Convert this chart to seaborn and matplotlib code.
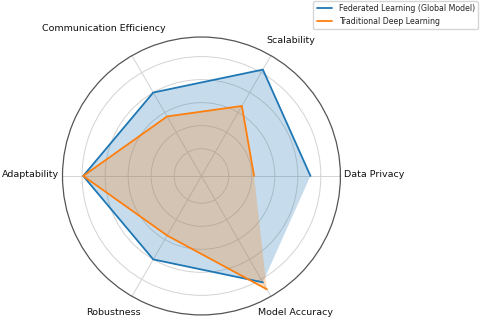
import numpy as np
import seaborn as sns
import matplotlib.pyplot as plt

sns.set_style('white')
plt.rcParams['font.family'] = ['DejaVu Sans']

categories = ['Data Privacy', 'Scalability', 'Communication Efficiency',
              'Adaptability', 'Robustness', 'Model Accuracy']
federated = [0.91, 1.03, 0.80, 0.99, 0.80, 1.03]
traditional = [0.42, 0.665, 0.56, 0.99, 0.56, 1.10]
series_names = ['Federated Learning (Global Model)', 'Traditional Deep Learning']

# pixel offsets of each category label from the outer ring
label_offsets = [(33.5, 1), (20, 15.6), (-28, 27.6),
                 (-32, 1), (-18.5, -16.6), (24.5, -16.6)]

angles = np.linspace(0, 2 * np.pi, len(categories), endpoint=False).tolist()
angles_closed = angles + angles[:1]

colors = sns.color_palette('tab10', 2)

fig = plt.figure(figsize=(4.8, 3.26), dpi=100)
ax = fig.add_axes([0.1302, 0.0337, 0.579, 0.853], projection='polar')

for vals, name, c in zip([federated, traditional], series_names, colors):
    v = vals + vals[:1]
    sns.lineplot(x=angles_closed, y=v, ax=ax, sort=False, color=c,
                 linewidth=1.3, label=name)
    ax.fill(angles_closed, v, color=c, alpha=0.25, linewidth=0)

rmax = 1.17
ax.set_ylim(-0.037, rmax)
ax.set_yticks([0.2, 0.4, 0.6, 0.8, 1.0])
ax.set_yticklabels([])
ax.set_xticks(angles)
ax.set_xticklabels([])
for ang, cat, off in zip(angles, categories, label_offsets):
    ax.annotate(cat, xy=(ang, rmax), xytext=off, textcoords='offset pixels',
                ha='center', va='center', fontsize=6.8, color='#111111')
ax.grid(True, color='#d3d3d3', linewidth=0.7)
ax.spines['polar'].set_color('#555555')
ax.spines['polar'].set_linewidth(0.9)
ax.set_xlabel('')
ax.set_ylabel('')

ax.legend(loc='upper right', bbox_to_anchor=(0.996, 0.997),
          bbox_transform=fig.transFigure, fontsize=5.7, borderaxespad=0)

fig.savefig('out.png', dpi=100)
